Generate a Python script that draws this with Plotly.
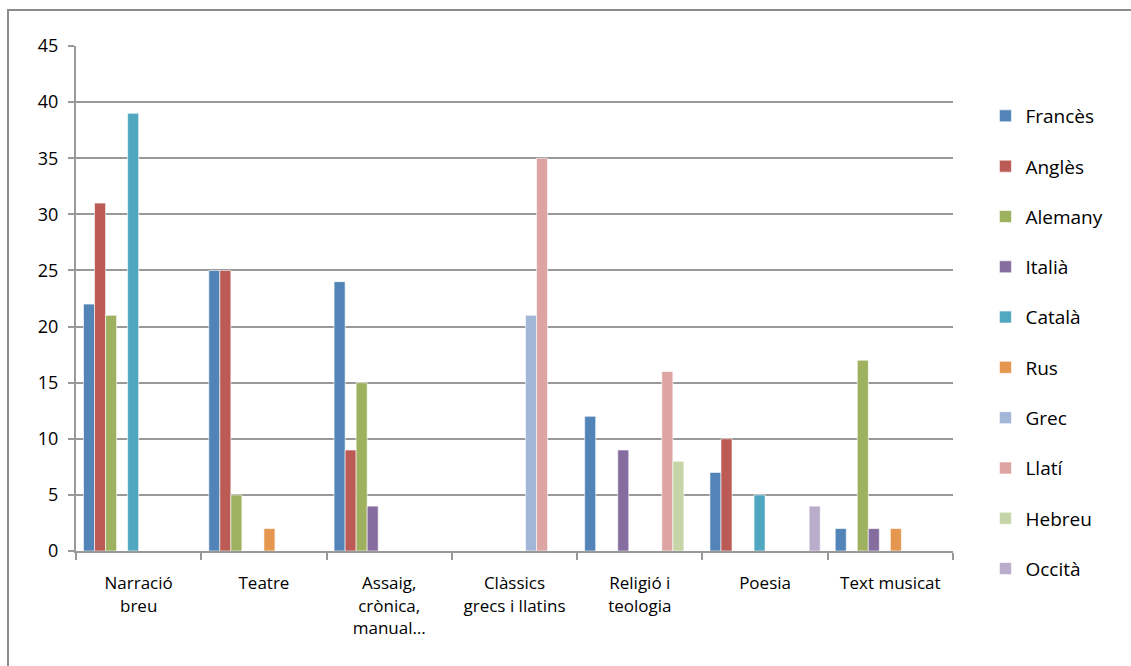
import plotly.graph_objects as go

# Categories (genres) and number of works per source language
categories = [
    "Narració<br>breu",
    "Teatre",
    "Assaig,<br>crònica,<br>manual…",
    "Clàssics<br>grecs i llatins",
    "Religió i<br>teologia",
    "Poesia",
    "Text musicat",
]

frances = [22, 25, 24, 0, 12, 7, 2]
angles = [31, 25, 9, 0, 0, 10, 0]
alemany = [21, 5, 15, 0, 0, 0, 17]
italia = [0, 0, 4, 0, 9, 0, 2]
catala = [39, 0, 0, 0, 0, 5, 0]
rus = [0, 2, 0, 0, 0, 0, 2]
grec = [0, 0, 0, 21, 0, 0, 0]
llati = [0, 0, 0, 35, 16, 0, 0]
hebreu = [0, 0, 0, 0, 8, 0, 0]
occita = [0, 0, 0, 0, 0, 4, 0]

series = [
    ("Francès", frances, "#5284B8"),
    ("Anglès", angles, "#BC5A55"),
    ("Alemany", alemany, "#9DB15E"),
    ("Italià", italia, "#866DA0"),
    ("Català", catala, "#50A8C0"),
    ("Rus", rus, "#E6974F"),
    ("Grec", grec, "#A2B6D8"),
    ("Llatí", llati, "#DCA5A3"),
    ("Hebreu", hebreu, "#C6D5A8"),
    ("Occità", occita, "#BAACCB"),
]

fig = go.Figure()
for name, vals, color in series:
    fig.add_trace(go.Bar(
        name=name,
        x=categories,
        y=vals,
        legendgroup=name,
        marker=dict(color=color, line=dict(color="rgba(255,255,255,0.6)", width=1)),
    ))

font_family = "Open Sans, Noto Sans, sans-serif"

fig.update_layout(
    width=1131,
    height=666,
    barmode="group",
    bargap=0.12,
    bargroupgap=0,
    paper_bgcolor="white",
    plot_bgcolor="white",
    margin=dict(l=76, r=178, t=46, b=115),
    font=dict(family=font_family, size=16, color="#000000"),
    showlegend=True,
    legend=dict(
        x=1.037, xanchor="left",
        y=0.899, yanchor="top",
        tracegroupgap=22.6,
        font=dict(size=19),
        itemwidth=30,
        maxheight=900,
    ),
    xaxis=dict(
        showline=True,
        linecolor="#999999",
        linewidth=2,
        ticks="outside",
        tickson="boundaries",
        ticklen=7,
        tickcolor="#999999",
        tickwidth=2,
        showgrid=False,
        tickfont=dict(size=17),
        ticklabelstandoff=16,
    ),
    yaxis=dict(
        range=[0, 45],
        dtick=5,
        showline=True,
        linecolor="#999999",
        linewidth=2,
        ticks="outside",
        ticklen=6,
        tickcolor="#999999",
        tickwidth=2,
        showgrid=True,
        gridcolor="#999999",
        gridwidth=2,
        zeroline=False,
        tickfont=dict(size=18),
        ticklabelstandoff=6,
    ),
    shapes=[
        dict(
            type="rect", xref="paper", yref="paper",
            x0=(8 - 76) / 877, x1=(1140 - 76) / 877,
            y0=(115 - 680) / 505, y1=(656 - 115) / 505,
            line=dict(color="#8c8c8c", width=2),
            fillcolor="rgba(0,0,0,0)",
            layer="below",
        )
    ],
)

fig.write_html("out.html")
